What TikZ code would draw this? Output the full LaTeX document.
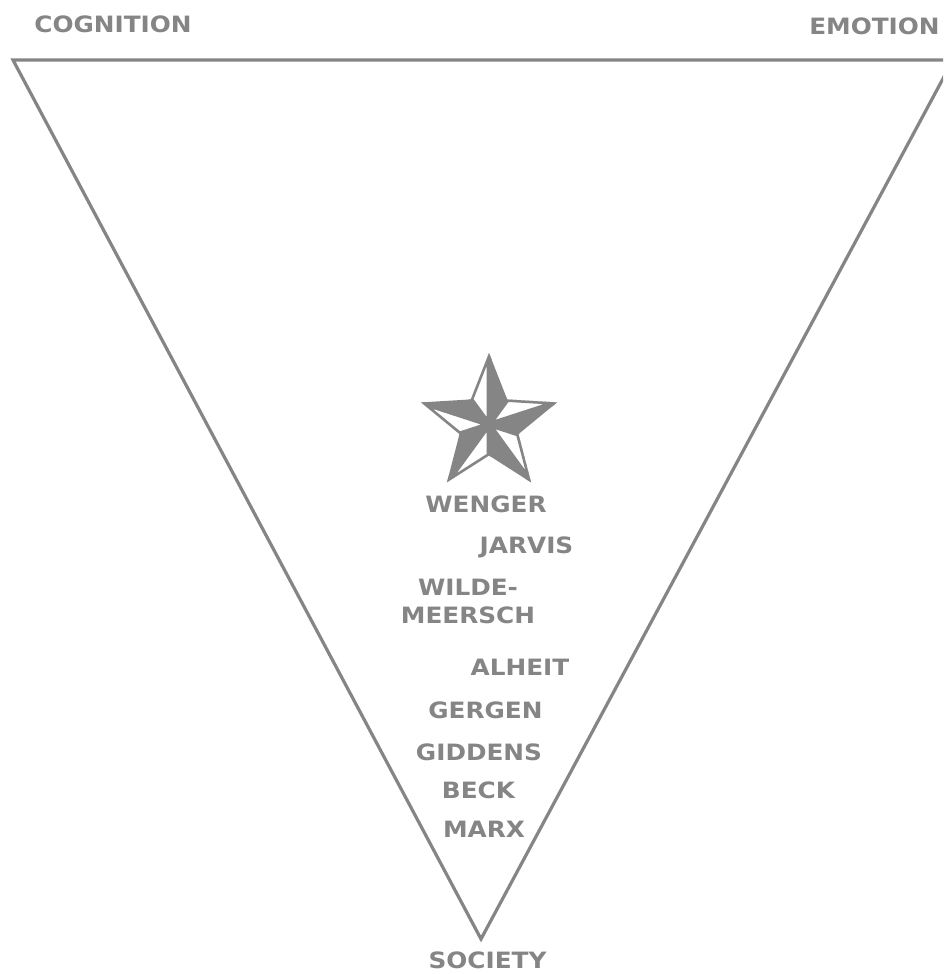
\documentclass[tikz,border=0pt]{standalone}
\usepackage{fontspec}
\setmainfont{DejaVu Sans}
\definecolor{lg}{HTML}{858585}
\begin{document}
\begin{tikzpicture}[x=1pt,y=-1pt,
  lbl/.style={text=lg, font=\bfseries\fontsize{22.5}{28}\selectfont, inner sep=0pt, xscale=1.1, align=center, anchor=base},
  edge/.style={draw=lg, line width=3.2pt, line join=miter},
  facet/.style={fill=white, draw=lg, line width=5pt, line join=miter}
]
\useasboundingbox (0,0) rectangle (943,974);
\clip (0,0) rectangle (943,974);
\fill[white] (0,0) rectangle (943,974);

\coordinate (tl) at (13,60);
\coordinate (tr) at (953,60);
\coordinate (apex) at (481,939);
\draw[edge] (tr) -- (tl) -- (apex) -- cycle;

\node[lbl] (cog) at (113,33) {COGNITION};
\node[lbl] (emo) at (874.5,34.5) {EMOTION};
\node[lbl] (soc) at (487.5,968) {SOCIETY};

\node[lbl] (wen) at (486,512) {WENGER};
\node[lbl] (jar) at (526.5,553) {JARVIS};
\node[lbl] (wil) at (468,623) {WILDE-\\MEERSCH};
\node[lbl] (alh) at (520,675) {ALHEIT};
\node[lbl] (ger) at (485.5,718) {GERGEN};
\node[lbl] (gid) at (479,760) {GIDDENS};
\node[lbl] (bec) at (478.5,798) {BECK};
\node[lbl] (mar) at (484,837) {MARX};

\begin{scope}[shift={(489,424.5)}, yscale=-1]
  \def\Ro{71.5}
  \def\Ri{31}
  \def\starpath{(90:\Ro) -- (126:\Ri) -- (162:\Ro) -- (198:\Ri) -- (234:\Ro) -- (270:\Ri)
     -- (306:\Ro) -- (342:\Ri) -- (18:\Ro) -- (54:\Ri) -- cycle}
  \fill[lg] \starpath;
  \begin{scope}
    \clip \starpath;
    \foreach \k in {0,...,4} {
      \filldraw[facet] (0,0) -- ({90+72*\k}:\Ro) -- ({126+72*\k}:\Ri) -- cycle;
    }
  \end{scope}
\end{scope}
\end{tikzpicture}
\end{document}
